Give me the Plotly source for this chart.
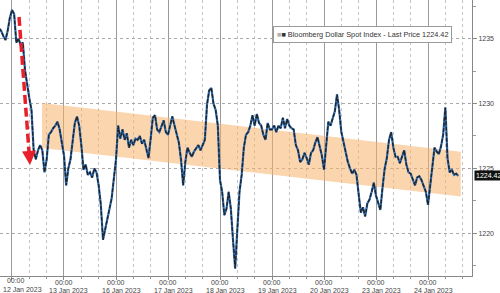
import pandas as pd
import plotly.graph_objects as go

# ---------------- data (hourly, trading hours; weekends removed) ----------------
P_11JAN = [1235.8, 1235.6, 1235.2, 1234.9, 1235.6, 1236.6]  # from 18:00
P_12JAN = [1237.2, 1236.9, 1234.7, 1235.0, 1234.5, 1234.7, 1232.6, 1231.4, 1230.4, 1229.5,
           1226.4, 1225.7, 1226.4, 1226.8, 1226.4, 1224.7, 1225.7, 1227.6, 1227.8, 1228.1,
           1228.3, 1228.6, 1228.0, 1227.0]
P_13JAN = [1226.0, 1223.7, 1225.0, 1225.7, 1227.2, 1228.5, 1229.0, 1228.3, 1226.8, 1224.9,
           1225.3, 1224.5, 1224.7, 1224.3, 1225.0, 1224.7, 1223.7, 1222.2, 1219.5, 1220.4,
           1221.2, 1221.9, 1222.7, 1224.1]
P_16JAN = [1225.7, 1228.3, 1227.3, 1228.0, 1227.2, 1227.7, 1226.6, 1227.2, 1226.8, 1227.3,
           1227.2, 1227.5, 1226.9, 1227.2, 1226.4, 1225.8, 1227.3, 1228.9, 1229.1, 1228.0,
           1227.8, 1228.3, 1228.7, 1227.8]
P_17JAN = [1227.6, 1228.3, 1229.0, 1228.3, 1227.6, 1227.0, 1225.7, 1223.7, 1225.5, 1226.6,
           1226.2, 1225.9, 1226.3, 1226.6, 1226.8, 1226.4, 1226.8, 1227.2, 1229.9, 1231.0,
           1231.2, 1230.0, 1229.5, 1228.3]
P_18JAN = [1224.1, 1223.2, 1221.4, 1221.9, 1223.2, 1221.9, 1219.5, 1217.3, 1220.3, 1223.2,
           1224.5, 1226.6, 1227.6, 1227.8, 1228.3, 1229.1, 1228.3, 1229.2, 1228.5, 1228.3,
           1227.6, 1227.2, 1228.5, 1228.0]
P_19JAN = [1228.0, 1228.3, 1227.8, 1228.3, 1228.1, 1228.9, 1228.1, 1228.8, 1228.3, 1228.1,
           1228.0, 1226.8, 1226.4, 1225.5, 1225.7, 1226.2, 1225.8, 1225.3, 1226.2, 1226.4,
           1227.0, 1227.4, 1226.7, 1226.0]
P_20JAN = [1224.9, 1227.1, 1228.6, 1228.3, 1228.8, 1229.4, 1230.7, 1229.5, 1227.8, 1227.0,
           1226.3, 1225.5, 1225.0, 1224.6, 1224.9, 1224.5, 1223.0, 1221.6, 1222.0, 1221.3,
           1222.3, 1222.6, 1223.2, 1223.9]
P_23JAN = [1222.9, 1222.4, 1221.8, 1223.5, 1225.0, 1225.8, 1227.2, 1227.8, 1226.6, 1225.9,
           1225.9, 1225.4, 1225.9, 1226.4, 1225.3, 1224.7, 1224.6, 1224.1, 1223.7, 1224.3,
           1224.4, 1224.1, 1223.7, 1223.2]
P_24JAN = [1222.2, 1223.7, 1225.3, 1226.6, 1226.3, 1226.1, 1226.7, 1227.6, 1229.7, 1225.8,
           1224.7, 1224.9, 1224.5, 1224.6, 1224.42]

SEGMENTS = [("2023-01-11", 18, P_11JAN), ("2023-01-12", 0, P_12JAN), ("2023-01-13", 0, P_13JAN),
            ("2023-01-16", 0, P_16JAN), ("2023-01-17", 0, P_17JAN), ("2023-01-18", 0, P_18JAN),
            ("2023-01-19", 0, P_19JAN), ("2023-01-20", 0, P_20JAN), ("2023-01-23", 0, P_23JAN),
            ("2023-01-24", 0, P_24JAN)]

TICK_DAYS = ["2023-01-12", "2023-01-13", "2023-01-16", "2023-01-17", "2023-01-18",
             "2023-01-19", "2023-01-20", "2023-01-23", "2023-01-24"]
TICK_TIME = "00:00"
TICK_DATE = ["12 Jan 2023", "13 Jan 2023", "16 Jan 2023", "17 Jan 2023", "18 Jan 2023",
             "19 Jan 2023", "20 Jan 2023", "23 Jan 2023", "24 Jan 2023"]
Y_TICKS = [1220, 1225, 1230, 1235]
Y_MINOR = [1217.5, 1222.5, 1227.5, 1232.5, 1237.5]

LAST_PRICE = 1224.42
SERIES_NAME = "Bloomberg Dollar Spot Index - Last Price"

# trend channel (times, top values, bottom values)
BAND_T = ["2023-01-12 13:51", "2023-01-24 15:07"]
BAND_TOP = [1230.05, 1226.29]
BAND_BOT = [1226.58, 1222.83]

# drop arrow
ARROW_T = ["2023-01-12 03:14", "2023-01-12 07:54", "2023-01-12 08:18"]
ARROW_V = [1236.67, 1226.19, 1225.27]

# ---------------- build ----------------
times, prices = [], []
for day, h0, vals in SEGMENTS:
    times += list(pd.date_range(f"{day} {h0:02d}:00", periods=len(vals), freq="h"))
    prices += vals

minor_vals = []
for d in ["2023-01-11"] + TICK_DAYS:
    for hh in (8, 16):
        minor_vals.append(f"{d} {hh:02d}:00")

FONT = "Liberation Sans"
fig = go.Figure()

fig.add_trace(go.Scatter(
    x=[BAND_T[0], BAND_T[1], BAND_T[1], BAND_T[0], BAND_T[0]],
    y=[BAND_TOP[0], BAND_TOP[1], BAND_BOT[1], BAND_BOT[0], BAND_TOP[0]],
    fill="toself", fillcolor="rgba(246,178,107,0.55)", line=dict(width=0),
    mode="lines", hoverinfo="skip", showlegend=False))

fig.add_trace(go.Scatter(x=times, y=prices, mode="lines",
                         line=dict(color="#2f6fb8", width=2.2), showlegend=False))
fig.add_trace(go.Scatter(x=times, y=prices, mode="lines",
                         line=dict(color="#222222", width=1.4, dash="4px,1.5px"),
                         showlegend=False))

fig.add_shape(type="line", xref="x", yref="y",
              x0=ARROW_T[0], y0=ARROW_V[0], x1=ARROW_T[1], y1=ARROW_V[1],
              line=dict(color="#e8202a", width=3.5, dash="9px,4px"))
fig.add_annotation(x=ARROW_T[2], y=ARROW_V[2], xref="x", yref="y", text="",
                   showarrow=True, arrowhead=2, arrowsize=0.8, arrowwidth=3.5,
                   arrowcolor="#e8202a", ax=-1, ay=-14)

fig.add_annotation(xref="paper", yref="paper", x=273 / 472, y=1 - 26 / 276,
                   xanchor="left", yanchor="top", showarrow=False,
                   text=f"<span style='color:#b0b0b0'>■</span>■ {SERIES_NAME} {LAST_PRICE:.2f}",
                   font=dict(family=FONT, size=7.3, color="#333"),
                   bgcolor="white", bordercolor="#9a9a9a", borderwidth=1, borderpad=3)

fig.add_annotation(xref="paper", yref="y", x=1, y=LAST_PRICE, xanchor="left",
                   xshift=2, showarrow=False, text=f"{LAST_PRICE:.2f}",
                   font=dict(family=FONT, size=7, color="white"),
                   bgcolor="#111", borderpad=1)

# x-axis labels: "00:00" line and date line
for i, (d, lab) in enumerate(zip(TICK_DAYS, TICK_DATE)):
    if i == 0:
        fig.add_annotation(x=0, xref="paper", xanchor="left", xshift=2,
                           yref="paper", y=0, yanchor="top", yshift=0,
                           showarrow=False, align="left",
                           text=f"&nbsp;&nbsp;{TICK_TIME}<br>{lab}", borderpad=0,
                           font=dict(family=FONT, size=7, color="#444"))
        continue
    fig.add_annotation(x=d, xref="x", yref="paper", y=0, yanchor="top", yshift=-1.5,
                       showarrow=False, text=TICK_TIME, borderpad=0,
                       font=dict(family=FONT, size=7, color="#444"))
    fig.add_annotation(x=d, xref="x", yref="paper", y=0, yanchor="top", yshift=-9.5,
                       xshift=5, showarrow=False, text=lab, borderpad=0,
                       font=dict(family=FONT, size=7, color="#444"))

fig.update_layout(
    width=500, height=293, margin=dict(l=0, r=28, t=0, b=17),
    paper_bgcolor="white", plot_bgcolor="white",
    font=dict(family=FONT, size=7, color="#444"),
    xaxis=dict(type="date", range=["2023-01-11 18:28", "2023-01-24 20:18"],
               rangebreaks=[dict(bounds=["sat", "mon"])],
               tickmode="array", tickvals=TICK_DAYS, showticklabels=False,
               showgrid=True, gridcolor="#9a9a9a", gridwidth=1,
               ticks="outside", ticklen=3, tickcolor="#888",
               showline=True, linecolor="#888", linewidth=1,
               minor=dict(tickmode="array", tickvals=minor_vals, showgrid=True,
                          gridcolor="#c4c4c4", griddash="dot", gridwidth=1,
                          ticks="outside", ticklen=2, tickcolor="#999"),
               automargin=False, zeroline=False),
    yaxis=dict(side="right", range=[1216.71, 1237.98], tickmode="array",
               tickvals=Y_TICKS, showgrid=True, gridcolor="#aaaaaa", griddash="dot",
               ticks="outside", ticklen=4, tickcolor="#888",
               showline=True, linecolor="#888", linewidth=1,
               tickfont=dict(family=FONT, size=7, color="#444"),
               minor=dict(tickmode="array", tickvals=Y_MINOR, ticks="outside",
                          ticklen=3, tickcolor="#999", showgrid=False),
               automargin=False, zeroline=False),
)

fig.write_html("out.html")
